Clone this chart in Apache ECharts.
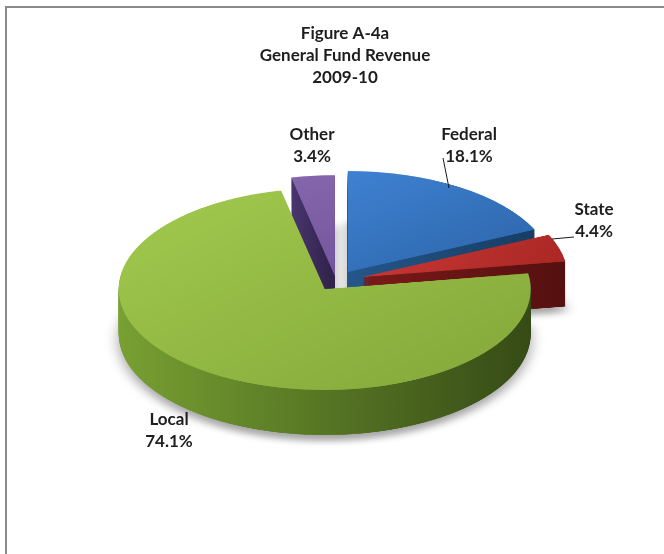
<!DOCTYPE html>
<html>
<head>
<meta charset="utf-8">
<script src="https://cdn.jsdelivr.net/npm/echarts@6/dist/echarts.min.js"></script>
<style>
html, body { margin: 0; padding: 0; background: #fff; }
#wrap { position: relative; width: 664px; height: 554px; overflow: hidden; }
/* the pie is drawn round, then squashed to look tilted */
#pie { position: absolute; left: 0; top: 0; width: 664px; height: 1131px; transform: scaleY(0.49); transform-origin: 0 0; }
#overlay { position: absolute; left: 0; top: 0; width: 664px; height: 554px; pointer-events: none; }
</style>
</head>
<body>
<div id="wrap">
  <div id="pie"></div>
  <div id="overlay"></div>
</div>
<script>
const titleLines = ['Figure A-4a', 'General Fund Revenue', '2009-10'];
const categories = ['Federal', 'State', 'Local', 'Other'];
const values = [18.1, 4.4, 74.1, 3.4];

const TILT = 0.49;
const CX = 336, CY = 281 / TILT, R = 206;
const DEPTH = 92, STEP = 2;
const explode = [22, 27, 20, 10];

const topColors = [
  ['#3f82d2', '#2c63a8'],
  ['#c93a37', '#a92623'],
  ['#a2ca4e', '#84a73a'],
  ['#8566ad', '#74569c']
];
const sideColors = [
  ['#24578a', '#173d63'],
  ['#7a1a18', '#551010'],
  ['#78a032', '#364b16'],
  ['#4a3670', '#2f2148']
];

function grad(c, dir) {
  return {
    type: 'linear', x: 0, y: 0, x2: 1, y2: dir ? 1 : 0,
    colorStops: [{ offset: 0, color: c[0] }, { offset: 1, color: c[1] }]
  };
}

function layer(k, dy, isTop, z, shadow) {
  const color = isTop ? grad(topColors[k], true) : grad(sideColors[k], false);
  return {
    type: 'pie',
    center: [CX, CY + dy],
    radius: R,
    startAngle: 90,
    clockwise: true,
    animation: false,
    silent: true,
    z: z,
    selectedMode: 'multiple',
    selectedOffset: explode[k],
    avoidLabelOverlap: false,
    label: { show: false },
    labelLine: { show: false },
    emphasis: { disabled: true },
    data: categories.map((name, i) => ({
      name: name,
      value: values[i],
      selected: i === k,
      itemStyle: i === k
        ? Object.assign({ color: color, borderWidth: 0 },
            shadow ? { shadowColor: 'rgba(0,0,0,0.35)', shadowBlur: 14, shadowOffsetY: 12 } : {})
        : { opacity: 0, borderWidth: 0 },
      select: { itemStyle: i === k ? { color: color } : { opacity: 0 } }
    }))
  };
}

const series = [];
let z = 1;
for (let d = DEPTH; d > 0; d -= STEP) {
  for (let k = 0; k < categories.length; k++) {
    series.push(layer(k, d, false, z, d === DEPTH));
  }
  z++;
}
for (let k = 0; k < categories.length; k++) {
  series.push(layer(k, 0, true, z));
}

const pieChart = echarts.init(document.getElementById('pie'));
pieChart.setOption({ animation: false, series: series });

// labels, title and frame, drawn unsquashed
const labelAnchors = [[469, 146], [594, 221], [169, 431], [312, 146]];
const font = { fontFamily: 'Lato, "Open Sans", sans-serif', fontWeight: 'bold', fontSize: 17, fill: '#1e1e1e' };

const graphic = [
  { type: 'line', shape: { x1: 6, y1: 6, x2: 6, y2: 554 }, style: { stroke: '#8a8a8a', lineWidth: 2 } },
  { type: 'line', shape: { x1: 6, y1: 7, x2: 664, y2: 7 }, style: { stroke: '#8a8a8a', lineWidth: 2 } },
  {
    type: 'text', x: 345, y: 56,
    style: Object.assign({ text: titleLines.join('\n'), align: 'center', verticalAlign: 'middle', lineHeight: 22 }, font)
  },
  { type: 'line', shape: { x1: 443, y1: 158, x2: 449, y2: 188 }, style: { stroke: '#1a1a1a', lineWidth: 1 } },
  { type: 'line', shape: { x1: 552, y1: 239, x2: 574, y2: 237 }, style: { stroke: '#1a1a1a', lineWidth: 1 } }
];
categories.forEach((name, i) => {
  graphic.push({
    type: 'text', x: labelAnchors[i][0], y: labelAnchors[i][1],
    style: Object.assign({
      text: name + '\n' + values[i].toFixed(1) + '%',
      align: 'center', verticalAlign: 'middle', lineHeight: 22
    }, font)
  });
});

const overlay = echarts.init(document.getElementById('overlay'));
overlay.setOption({ animation: false, graphic: graphic });
</script>
</body>
</html>
